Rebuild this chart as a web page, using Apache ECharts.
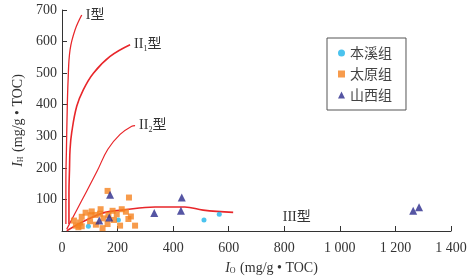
<!DOCTYPE html>
<html><head><meta charset="utf-8">
<script src="https://cdn.jsdelivr.net/npm/echarts@6/dist/echarts.min.js"></script>
<style>html,body{margin:0;padding:0;background:#fff}#c{width:473px;height:280px}</style>
</head><body><div id="c"></div>
<script>
// ---- data ----
const xTicks = [0, 200, 400, 600, 800, 1000, 1200, 1400];
const yTicks = [0, 100, 200, 300, 400, 500, 600, 700];
const seriesNames = ['本溪组', '太原组', '山西组'];
const benxi = [[95,15],[203,35],[511,35],[566,53]];
const taiyuan = [[164,127],[241,106],[43,33],[50,17],[59,12],[71,15],[65,27],[71,45],[85,58],[101,31],[107,62],[103,50],[121,51],[122,20],[137,55],[139,69],[146,9],[149,40],[164,22],[167,51],[182,64],[187,35],[197,53],[209,17],[215,69],[230,61],[239,38],[248,46],[263,17]];
const shanxi = [[173,115],[134,33],[170,43],[332,57],[431,106],[428,64],[1264,64],[1285,75]];
const curveI = [[14,22],[14,164],[16,259],[18,353],[22,479],[29,574],[47,637],[71,684]];
const curveII1 = [[25,22],[25,120],[27,196],[29,259],[35,312],[53,395],[77,448],[113,500],[173,553],[245,590]];
const curveII2 = [[17,6],[72,98],[126,189],[165,259],[209,306],[251,332],[263,334]];
const curveIII = [[17,1],[95,38],[155,59],[216,66],[335,76],[442,76],[508,66],[616,59]];
const curveLabels = ['{r|I型}', '{r|II}{s|1}{r|型}', '{r|II}{s|2}{r|型}', '{r|III型}'];
const labelIIIAt = [845, 44];

const serif = '"Liberation Serif","Times New Roman",serif';
const cjk = '"Liberation Serif","Noto Sans CJK SC",serif';
const red = '#e8262a';
const rich = {
  r: {fontFamily: cjk, fontSize: 14, color: '#333'},
  s: {fontFamily: serif, fontSize: 8, color: '#333', verticalAlign: 'bottom', padding: [8,0,0,0]}
};
function curve(name, data, lw, label) {
  return {
    name: name, type: 'line', data: data, smooth: 0.4, symbol: 'none',
    lineStyle: {color: red, width: lw}, z: 1, silent: true,
    endLabel: label ? {show: true, formatter: label, rich: rich, distance: 4} : {show: false}
  };
}
const chart = echarts.init(document.getElementById('c'), null, {renderer: 'canvas'});
const iii = curve('III', curveIII, 1.6, null);
iii.markPoint = {symbol: 'circle', symbolSize: 0, silent: true,
  data: [{coord: labelIIIAt, label: {show: true, position: 'inside', formatter: curveLabels[3], rich: rich}}]};
chart.setOption({
  animation: false,
  grid: {left: 62, right: 22, top: 10, bottom: 49, containLabel: false},
  legend: {
    data: seriesNames, orient: 'vertical', left: 327, top: 38,
    itemWidth: 7, itemHeight: 7, itemGap: 7,
    borderColor: '#555', borderWidth: 1, padding: [8, 14, 8, 11],
    textStyle: {fontFamily: '"Noto Sans CJK SC"', fontSize: 14, color: '#444', lineHeight: 14}
  },
  xAxis: {
    type: 'value', min: xTicks[0], max: xTicks[xTicks.length-1], interval: 200,
    axisLine: {lineStyle: {color: '#333'}},
    axisTick: {inside: true, length: 5, lineStyle: {color: '#333'}},
    splitLine: {show: false},
    axisLabel: {fontFamily: serif, fontSize: 14, color: '#333', margin: 10,
      formatter: v => v >= 1000 ? String(v).replace(/(\d)(\d{3})$/, '$1 $2') : String(v)},
    name: '{i|I}{s|O} (mg/g • TOC)', nameLocation: 'middle', nameGap: 30,
    nameTextStyle: {fontFamily: serif, fontSize: 14, color: '#333', padding: [0,0,0,30],
      rich: {i: {fontFamily: serif, fontStyle: 'italic', fontSize: 14, color: '#333'},
             s: {fontFamily: serif, fontSize: 8, color: '#333', verticalAlign: 'bottom', padding: [6,1,0,0]}}}
  },
  yAxis: {
    type: 'value', min: yTicks[0], max: yTicks[yTicks.length-1], interval: 100,
    axisLine: {show: true, lineStyle: {color: '#333'}},
    axisTick: {show: true, inside: true, length: 5, lineStyle: {color: '#333'}},
    splitLine: {show: false},
    axisLabel: {fontFamily: serif, fontSize: 14, color: '#333', margin: 5, showMinLabel: false},
    name: '{i|I}{s|H} (mg/g • TOC)', nameLocation: 'middle', nameGap: 35, nameRotate: 90,
    nameTextStyle: {fontFamily: serif, fontSize: 14, color: '#333',
      rich: {i: {fontFamily: serif, fontStyle: 'italic', fontSize: 14, color: '#333'},
             s: {fontFamily: serif, fontSize: 8, color: '#333', verticalAlign: 'bottom', padding: [6,1,0,0]}}}
  },
  series: [
    curve('I', curveI, 1.3, curveLabels[0]),
    curve('II1', curveII1, 1.6, curveLabels[1]),
    curve('II2', curveII2, 1.2, curveLabels[2]),
    iii,
    {name: seriesNames[0], type: 'scatter', data: benxi, symbol: 'circle', symbolSize: 5,
     itemStyle: {color: '#1eb4ea'}, z: 3},
    {name: seriesNames[1], type: 'scatter', data: taiyuan, symbol: 'rect', symbolSize: 6,
     itemStyle: {color: '#f5821f'}, z: 3},
    {name: seriesNames[2], type: 'scatter', data: shanxi, symbol: 'triangle', symbolSize: 8,
     itemStyle: {color: '#2b2a8c'}, z: 3}
  ]
});
</script></body></html>
